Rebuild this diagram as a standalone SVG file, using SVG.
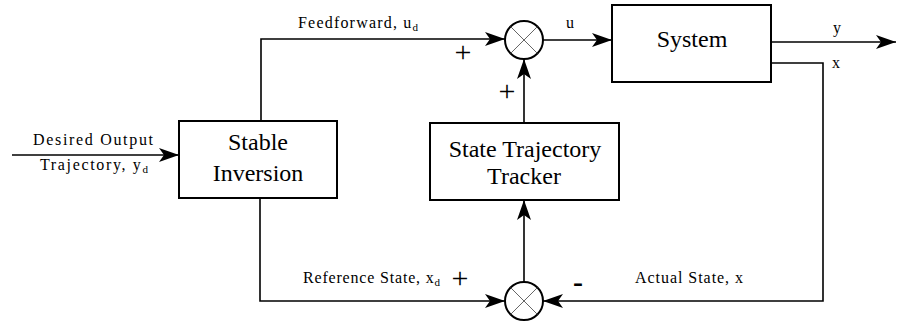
<svg xmlns="http://www.w3.org/2000/svg" width="897" height="327" viewBox="0 0 897 327">
  <style>
    .box { fill: #ffffff; stroke: #000000; stroke-width: 2; }
    .wire { fill: none; stroke: #000000; stroke-width: 1.6; }
    .sum { fill: #ffffff; stroke: #000000; stroke-width: 2; }
    .cross { stroke: #555555; stroke-width: 0.9; }
    text { font-family: 'Liberation Serif', 'Times New Roman', Times, serif; fill: #000; }
    .big { font-size: 24px; text-anchor: middle; }
    .lbl { font-size: 16px; }
    .sub { font-size: 11px; }
    .sign { font-size: 30px; text-anchor: middle; }
  </style>
  <defs>
    <marker id="arrow" markerUnits="userSpaceOnUse" markerWidth="21" markerHeight="15" refX="20" refY="7" orient="auto">
      <path d="M0,0 L20,7 L0,14 L5,7 Z" fill="#000"/>
    </marker>
  </defs>

  <rect width="897" height="327" fill="#ffffff"/>

  <!-- signal lines -->
  <g id="connectors">
    <path class="wire" d="M12,155 H179" marker-end="url(#arrow)"/>
    <path class="wire" d="M261,121 V39 H505" marker-end="url(#arrow)"/>
    <path class="wire" d="M543,40 H612" marker-end="url(#arrow)"/>
    <path class="wire" d="M771,42 H896" marker-end="url(#arrow)"/>
    <path class="wire" d="M771,63 H823 V301 H543" marker-end="url(#arrow)"/>
    <path class="wire" d="M260,198 V301 H505" marker-end="url(#arrow)"/>
    <path class="wire" d="M524,282 V200" marker-end="url(#arrow)"/>
    <path class="wire" d="M524,123 V59" marker-end="url(#arrow)"/>

    <text class="lbl" x="33" y="145" textLength="120" lengthAdjust="spacing">Desired Output</text>
    <text class="lbl" x="40" y="170" textLength="108" lengthAdjust="spacing">Trajectory, y<tspan class="sub" dy="3">d</tspan></text>
    <text class="lbl" x="298" y="28" textLength="120" lengthAdjust="spacing">Feedforward, u<tspan class="sub" dy="3">d</tspan></text>
    <text class="lbl" x="303" y="283" textLength="137" lengthAdjust="spacing">Reference State, x<tspan class="sub" dy="3">d</tspan></text>
    <text class="lbl" x="635" y="283" textLength="108" lengthAdjust="spacing">Actual State, x</text>
    <text class="lbl" x="566" y="28" font-size="15">u</text>
    <text class="lbl" x="833" y="33">y</text>
    <text class="lbl" x="832" y="68">x</text>

    <text class="sign" x="463" y="62">+</text>
    <text class="sign" x="507" y="101">+</text>
    <text class="sign" x="460" y="288">+</text>
    <text class="sign" x="578" y="292" font-weight="bold">-</text>
  </g>

  <g id="stable-inversion">
    <rect class="box" x="179" y="121" width="158" height="77"/>
    <text class="big" x="258" y="150">Stable</text>
    <text class="big" x="258" y="181">Inversion</text>
  </g>

  <g id="state-trajectory-tracker">
    <rect class="box" x="430" y="123" width="189" height="77"/>
    <text class="big" x="525" y="157">State Trajectory</text>
    <text class="big" x="524" y="184">Tracker</text>
  </g>

  <g id="system">
    <rect class="box" x="612" y="5" width="159" height="77"/>
    <text class="big" x="692" y="47">System</text>
  </g>

  <g id="sum-input">
    <circle class="sum" cx="524" cy="40" r="19"/>
    <line class="cross" x1="510.6" y1="26.6" x2="537.4" y2="53.4"/>
    <line class="cross" x1="537.4" y1="26.6" x2="510.6" y2="53.4"/>
  </g>

  <g id="sum-error">
    <circle class="sum" cx="524" cy="301" r="19"/>
    <line class="cross" x1="510.6" y1="287.6" x2="537.4" y2="314.4"/>
    <line class="cross" x1="537.4" y1="287.6" x2="510.6" y2="314.4"/>
  </g>
</svg>
